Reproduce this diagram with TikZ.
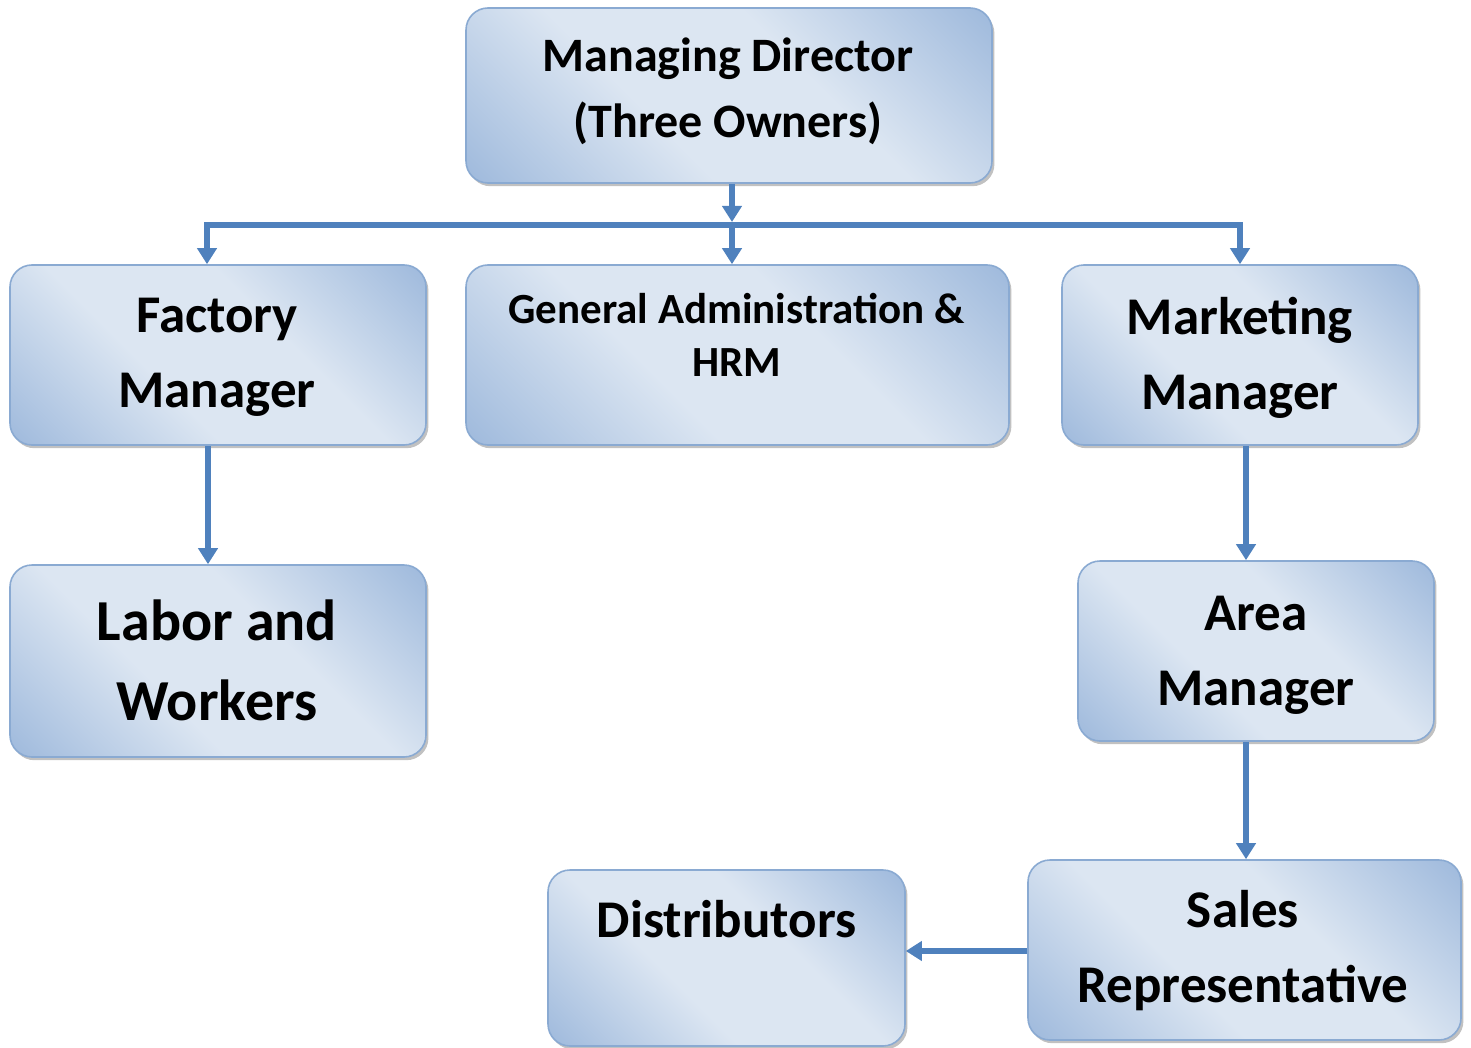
\documentclass[tikz,border=0pt]{standalone}
\usepackage{fontspec}
\setmainfont{Carlito}
\usetikzlibrary{arrows.meta,shadows}
\definecolor{boxdark}{HTML}{93B1D8}
\definecolor{boxlight}{HTML}{DCE6F2}
\definecolor{boxedge}{HTML}{8AAAD2}
\definecolor{linkblue}{HTML}{4F81BD}
\pgfdeclarehorizontalshading{boxshade}{100bp}{color(0bp)=(boxdark); color(10bp)=(boxdark); color(40bp)=(boxlight); color(60bp)=(boxlight); color(90bp)=(boxdark); color(100bp)=(boxdark)}
\tikzset{
  box/.style={draw=boxedge, line width=0.8pt, rounded corners=11pt, shading=boxshade, shading angle=45,
    drop shadow={shadow xshift=1.2pt, shadow yshift=-1.6pt, opacity=0.35, fill=black!70}},
  lbl/.style={anchor=base, align=center, inner sep=0pt, font=\bfseries\fontsize{26.5}{37.5}\selectfont},
  link/.style={draw=linkblue, line width=3pt},
  arr/.style={link, -{Triangle[width=9.5pt, length=8pt]}}
}
\begin{document}
\begin{tikzpicture}[x=0.5pt, y=-0.5pt]
\useasboundingbox (0,0) rectangle (1471,1048);
% boxes
\node[box, minimum width=263pt, minimum height=87.5pt] (md) at (729,95.5) {};
\node[box, minimum width=208pt, minimum height=90pt] (fm) at (218,355) {};
\node[box, minimum width=271.5pt, minimum height=90pt] (ga) at (737.5,355) {};
\node[box, minimum width=178pt, minimum height=90pt] (mk) at (1240,355) {};
\node[box, minimum width=208pt, minimum height=96pt] (lw) at (218,661) {};
\node[box, minimum width=178pt, minimum height=90pt] (am) at (1256,651) {};
\node[box, minimum width=178.5pt, minimum height=88pt] (ds) at (726.5,958) {};
\node[box, minimum width=216.5pt, minimum height=90pt] (sr) at (1244.5,950) {};
% labels (anchor base = baseline of the last line)
\node[lbl, font=\bfseries\fontsize{24}{33}\selectfont] (mdt) at (728,138) {Managing Director\\(Three Owners)};
\node[lbl] (fmt) at (217,407) {Factory\\Manager};
\node[lbl, font=\bfseries\fontsize{21.5}{26.5}\selectfont] (gat) at (736.5,376) {General Administration \&\\HRM};
\node[lbl] (mkt) at (1240,409) {Marketing\\Manager};
\node[lbl, font=\bfseries\fontsize{29}{40}\selectfont] (lwt) at (217,720) {Labor and\\Workers};
\node[lbl] (amt) at (1256,705) {Area\\Manager};
\node[lbl] (dst) at (726.5,937) {Distributors};
\node[lbl] (srt) at (1243,1002) {Sales\\Representative};
% connectors
\coordinate (mdbus) at (732,225);
\coordinate (busL) at (207,225);
\coordinate (busR) at (1240,225);
\draw[arr, shorten >=1.5pt] (md.south -| mdbus) -- (mdbus);
\draw[arr] (mdbus) -| (busL |- fm.north);
\draw[arr] (mdbus) -| (busR |- mk.north);
\draw[arr] (mdbus) -- (mdbus |- ga.north);
\coordinate (fmx) at (208,0);
\draw[arr] (fmx |- fm.south) -- (fmx |- lw.north);
\coordinate (mkx) at (1246,0);
\draw[arr] (mkx |- mk.south) -- (mkx |- am.north);
\draw[arr] (mkx |- am.south) -- (mkx |- sr.north);
\coordinate (sry) at (0,951);
\draw[arr] (sr.west |- sry) -- (ds.east |- sry);
\end{tikzpicture}
\end{document}
